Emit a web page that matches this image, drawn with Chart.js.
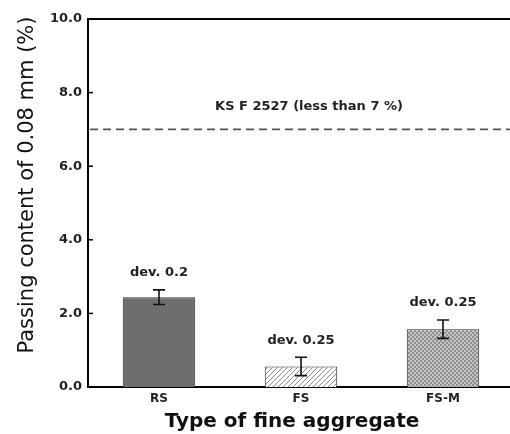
<!DOCTYPE html>
<html>
<head>
<meta charset="utf-8">
<script src="https://cdn.jsdelivr.net/npm/chart.js@4"></script>
<style>
html,body{margin:0;padding:0;background:#fff;overflow:hidden;width:510px;height:434px;}
#wrap{width:514px;height:434px;position:relative;}
</style>
</head>
<body>
<div id="wrap"><canvas id="c" width="514" height="434"></canvas></div>
<script>
const categories = ['RS', 'FS', 'FS-M'];
const passingValues = [2.44, 0.56, 1.57];
const deviations = [0.2, 0.25, 0.25];
const devLabels = ['dev. 0.2', 'dev. 0.25', 'dev. 0.25'];
const yTicks = [0, 2, 4, 6, 8, 10];
const limitValue = 7;
const limitLabel = 'KS F 2527 (less than 7 %)';
const xTitle = 'Type of fine aggregate';
const yTitle = 'Passing content of 0.08 mm (%)';

const FONT = '"DejaVu Sans", Verdana, sans-serif';

function hatchPattern() {
  const p = document.createElement('canvas');
  p.width = 5; p.height = 5;
  const g = p.getContext('2d');
  g.fillStyle = '#ffffff'; g.fillRect(0, 0, 5, 5);
  g.strokeStyle = '#8a8a8a'; g.lineWidth = 1;
  g.beginPath();
  g.moveTo(-1, 6); g.lineTo(6, -1);
  g.moveTo(-1, 1); g.lineTo(1, -1);
  g.moveTo(4, 6); g.lineTo(6, 4);
  g.stroke();
  return g.createPattern(p, 'repeat');
}
function checkPattern() {
  const p = document.createElement('canvas');
  p.width = 4; p.height = 4;
  const g = p.getContext('2d');
  g.fillStyle = '#ffffff'; g.fillRect(0, 0, 4, 4);
  g.fillStyle = '#8f8f8f';
  g.fillRect(0, 0, 2, 2); g.fillRect(2, 2, 2, 2);
  g.fillStyle = '#c4c4c4';
  g.fillRect(2, 0, 2, 2); g.fillRect(0, 2, 2, 2);
  return g.createPattern(p, 'repeat');
}
const ctx = document.getElementById('c').getContext('2d');
const fills = ['#6e6e6e', hatchPattern(), checkPattern()];

const extras = {
  id: 'extras',
  afterDatasetsDraw(chart) {
    const c = chart.ctx, x = chart.scales.x, y = chart.scales.y, a = chart.chartArea;
    c.save();
    // top frame line
    c.strokeStyle = '#000'; c.lineWidth = 2;
    c.beginPath(); c.moveTo(a.left - 1, a.top); c.lineTo(a.right + 10, a.top); c.stroke();
    // inward ticks
    c.lineWidth = 1.5;
    yTicks.forEach(v => {
      const py = y.getPixelForValue(v);
      c.beginPath(); c.moveTo(a.left, py); c.lineTo(a.left + 5, py); c.stroke();
    });
    // limit line
    const ly = y.getPixelForValue(limitValue);
    c.strokeStyle = '#555'; c.lineWidth = 1.6; c.setLineDash([8, 5]);
    c.beginPath(); c.moveTo(a.left + 2, ly); c.lineTo(a.right + 10, ly); c.stroke();
    c.setLineDash([]);
    c.fillStyle = '#222'; c.font = 'bold 13px ' + FONT;
    c.textAlign = 'center'; c.textBaseline = 'middle';
    c.fillText(limitLabel, (a.left + a.right) / 2 + 8, ly - 23);
    // error bars and labels
    c.strokeStyle = '#111'; c.lineWidth = 1.6;
    passingValues.forEach((v, i) => {
      const px = x.getPixelForValue(i);
      const t = y.getPixelForValue(v + deviations[i]);
      const b = y.getPixelForValue(v - deviations[i]);
      c.beginPath();
      c.moveTo(px, t); c.lineTo(px, b);
      c.moveTo(px - 6, t); c.lineTo(px + 6, t);
      c.moveTo(px - 6, b); c.lineTo(px + 6, b);
      c.stroke();
      c.fillStyle = '#222';
      c.fillText(devLabels[i], px, t - 17);
    });
    // axis titles
    c.fillStyle = '#111';
    c.font = 'bold 20px ' + FONT;
    c.textBaseline = 'alphabetic';
    c.fillText(xTitle, 292, 427);
    c.save();
    c.translate(33, 185);
    c.rotate(-Math.PI / 2);
    c.font = '21px ' + FONT;
    c.fillText(yTitle, 0, 0);
    c.restore();
    c.restore();
  }
};

new Chart(ctx, {
  type: 'bar',
  data: {
    labels: categories,
    datasets: [{
      data: passingValues,
      backgroundColor: fills,
      borderColor: '#333',
      borderWidth: 1,
      borderSkipped: 'bottom',
      categoryPercentage: 1,
      barPercentage: 0.51
    }]
  },
  options: {
    responsive: false,
    animation: false,
    events: [],
    layout: { padding: { top: 19, right: 0, left: 0, bottom: 0 } },
    plugins: { legend: { display: false }, tooltip: { enabled: false } },
    scales: {
      x: {
        offset: true,
        grid: { display: false, drawTicks: false },
        border: { color: '#000', width: 2 },
        ticks: { color: '#222', font: { family: FONT, size: 12, weight: 'bold' }, padding: 5 },
        afterFit(s) { s.height = 47; }
      },
      y: {
        min: 0, max: 10,
        afterBuildTicks(s) { s.ticks = yTicks.map(v => ({ value: v })); },
        grid: { display: false, drawTicks: false },
        border: { color: '#000', width: 2 },
        ticks: { color: '#222', font: { family: FONT, size: 13, weight: 'bold' }, padding: 6, callback: v => Number(v).toFixed(1) },
        afterFit(s) { s.width = 88; }
      }
    }
  },
  plugins: [extras]
});
</script>
</body>
</html>
